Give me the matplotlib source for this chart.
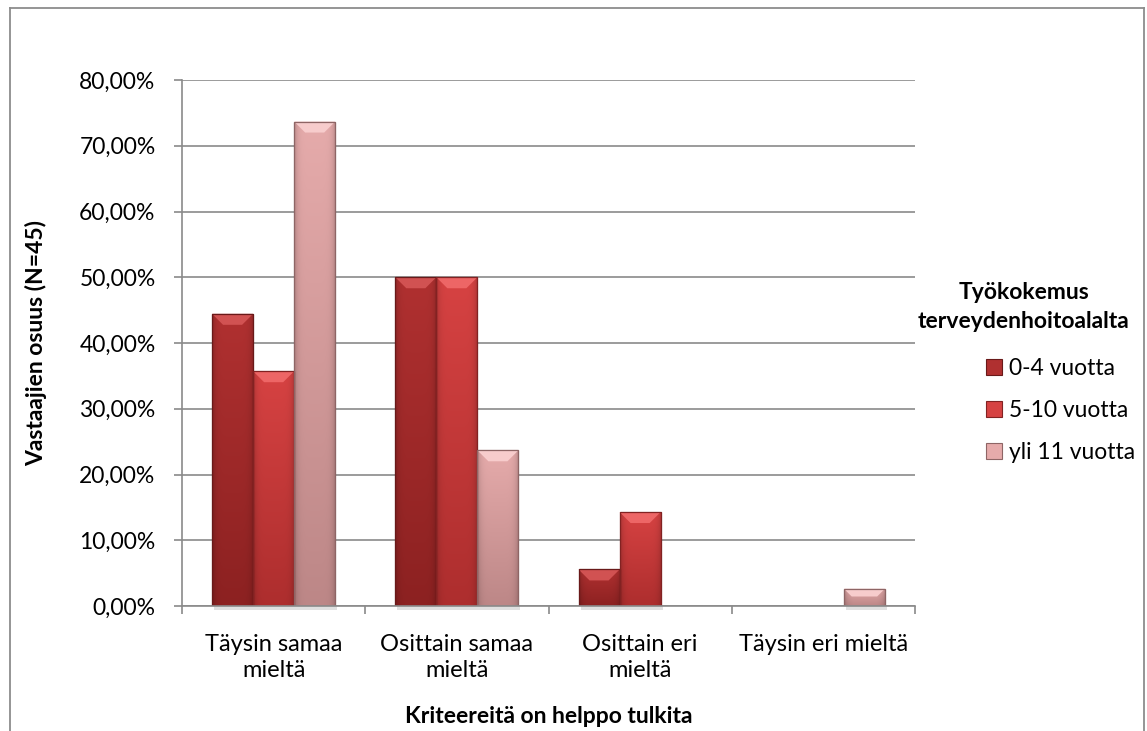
import numpy as np
import matplotlib
matplotlib.use("Agg")
import matplotlib.pyplot as plt
from matplotlib.patches import Rectangle, Polygon
from matplotlib.lines import Line2D
from matplotlib.ticker import FuncFormatter, FixedLocator

plt.rcParams['font.family'] = ['Lato', 'DejaVu Sans']

categories = ["Täysin samaa\nmieltä", "Osittain samaa\nmieltä", "Osittain eri\nmieltä", "Täysin eri mieltä"]
series_names = ["0-4 vuotta", "5-10 vuotta", "yli 11 vuotta"]
share_0_4 = [0.4444, 0.5000, 0.0556, 0.0]
share_5_10 = [0.3571, 0.5000, 0.1429, 0.0]
share_11 = [0.7368, 0.2368, 0.0, 0.0263]
yticks = [0.0, 0.1, 0.2, 0.3, 0.4, 0.5, 0.6, 0.7, 0.8]

# base colours (top, bottom, bevel highlight) for each series
palette = [
    ((0.69, 0.19, 0.19), (0.55, 0.13, 0.13), (0.82, 0.32, 0.32)),
    ((0.84, 0.26, 0.26), (0.68, 0.18, 0.18), (0.93, 0.40, 0.40)),
    ((0.90, 0.67, 0.67), (0.74, 0.53, 0.53), (0.97, 0.80, 0.80)),
]

FS = 16.5
W, H = 1147, 731
fig = plt.figure(figsize=(W / 100, H / 100), dpi=100)
fig.patch.set_facecolor("white")

ax = fig.add_axes([182 / W, (H - 606) / H, (915 - 182) / W, (606 - 80) / H])
ax.set_xlim(-0.5, 3.5)
ax.set_ylim(0, 0.8)
ax.set_facecolor("white")

grid_col = "#8a8a8a"
for s in ["top", "right"]:
    ax.spines[s].set_visible(False)
for s in ["left", "bottom"]:
    ax.spines[s].set_color(grid_col)
    ax.spines[s].set_linewidth(1.2)

ax.yaxis.set_major_locator(FixedLocator(yticks))
ax.yaxis.set_major_formatter(FuncFormatter(lambda v, p: f"{v * 100:.2f}%".replace(".", ",")))
ax.grid(axis="y", color=grid_col, linewidth=1.2)
ax.set_axisbelow(True)
ax.tick_params(axis="y", length=6, width=1.2, color=grid_col, labelsize=FS, pad=13)

x = np.arange(len(categories))
ax.xaxis.set_major_locator(FixedLocator(np.arange(-0.5, 4.0, 1.0)))
ax.xaxis.set_major_formatter(FuncFormatter(lambda v, p: ""))
ax.xaxis.set_minor_locator(FixedLocator(x))
ax.set_xticklabels(categories, minor=True)
ax.tick_params(axis="x", which="major", length=6, width=1.2, color=grid_col)
ax.tick_params(axis="x", which="minor", length=0, labelsize=17, pad=20)
for lbl in ax.get_xticklabels(minor=True):
    lbl.set_linespacing(1.3)

bw = 0.224
offsets = [-bw, 0.0, bw]
series = [share_0_4, share_5_10, share_11]

bar_groups = []
for i, vals in enumerate(series):
    bars = ax.bar(x + offsets[i], vals, width=bw, color=palette[i][0],
                  edgecolor=(0.35, 0.10, 0.10, 0.6), linewidth=0.8, zorder=2,
                  label=series_names[i])
    bar_groups.append(bars)

fig.canvas.draw()
to_disp = ax.transData
to_data = ax.transData.inverted()

for i, bars in enumerate(bar_groups):
    top_c, bot_c, hi_c = [np.array(c) for c in palette[i]]
    for rect in bars:
        h = rect.get_height()
        if h <= 0:
            continue
        x0, y0 = rect.get_x(), rect.get_y()
        w = rect.get_width()
        # shading image: vertical fade + darker side edges
        ny, nx = 64, 32
        t = np.linspace(0, 1, ny)[:, None]            # 0 top -> 1 bottom
        u = np.linspace(-1, 1, nx)[None, :]
        base = top_c[None, None, :] * (1 - t[..., None]) + bot_c[None, None, :] * t[..., None]
        side = 1 - 0.18 * np.abs(u) ** 6
        img = base * side[..., None]
        im = ax.imshow(np.clip(img, 0, 1), extent=[x0, x0 + w, y0, y0 + h],
                       aspect="auto", zorder=2.1, interpolation="bilinear")
        im.set_clip_path(rect)
        # bevelled top facet
        (px0, py0) = to_disp.transform((x0, y0 + h))
        (px1, _) = to_disp.transform((x0 + w, y0 + h))
        (_, pyb) = to_disp.transform((x0, y0))
        bev = min(11.0, (py0 - pyb) * 0.45)
        pts_disp = [(px0, py0), (px1, py0), (px1 - bev, py0 - bev), (px0 + bev, py0 - bev)]
        pts = to_data.transform(pts_disp)
        ax.add_patch(Polygon(pts, closed=True, facecolor=hi_c, edgecolor="none", zorder=2.2))
        # darker outline
        ax.add_patch(Rectangle((x0, y0), w, h, fill=False,
                               edgecolor=tuple(bot_c * 0.75), linewidth=0.9, zorder=2.3))
        # soft shadow under the bar
        (sx0, sy0) = to_data.transform((px0 + 2, pyb - 4))
        ax.add_patch(Rectangle((sx0, sy0), w, to_data.transform((0, pyb))[1] - sy0,
                               facecolor=(0, 0, 0, 0.12), edgecolor="none", zorder=1.9,
                               clip_on=False))

ax.set_ylabel("Vastaajien osuus (N=45)", fontsize=FS, fontweight="bold")
ax.yaxis.set_label_coords((47 - 182) / (915 - 182), 0.5)
ax.set_xlabel("Kriteereitä on helppo tulkita", fontsize=FS, fontweight="bold", labelpad=18)

# legend title and entries
fig.text(1024 / W, 1 - 307 / H, "Työkokemus\nterveydenhoitoalalta", ha="center", va="center",
         fontsize=FS, fontweight="bold", linespacing=1.5)
handles = [Rectangle((0, 0), 1, 1, facecolor=palette[i][0], edgecolor=tuple(np.array(palette[i][1]) * 0.75),
                     linewidth=0.8) for i in range(3)]
leg = fig.legend(handles, series_names, loc="upper left", bbox_to_anchor=(968 / W, 1 - 340 / H),
                 frameon=False, fontsize=FS,
                 handlelength=0.7, handleheight=0.7, handletextpad=0.3,
                 labelspacing=0.9, borderpad=0.3)

# chart frame
border = "#8c8c8c"
fig.add_artist(Line2D([10 / W, 10 / W], [0, 1 - 8 / H], color=border, lw=1.3))
fig.add_artist(Line2D([10 / W, 1144 / W], [1 - 8 / H, 1 - 8 / H], color=border, lw=1.3))
fig.add_artist(Line2D([1144 / W, 1144 / W], [0, 1 - 8 / H], color=border, lw=1.3))

fig.savefig("out.png", dpi=100, facecolor="white")
